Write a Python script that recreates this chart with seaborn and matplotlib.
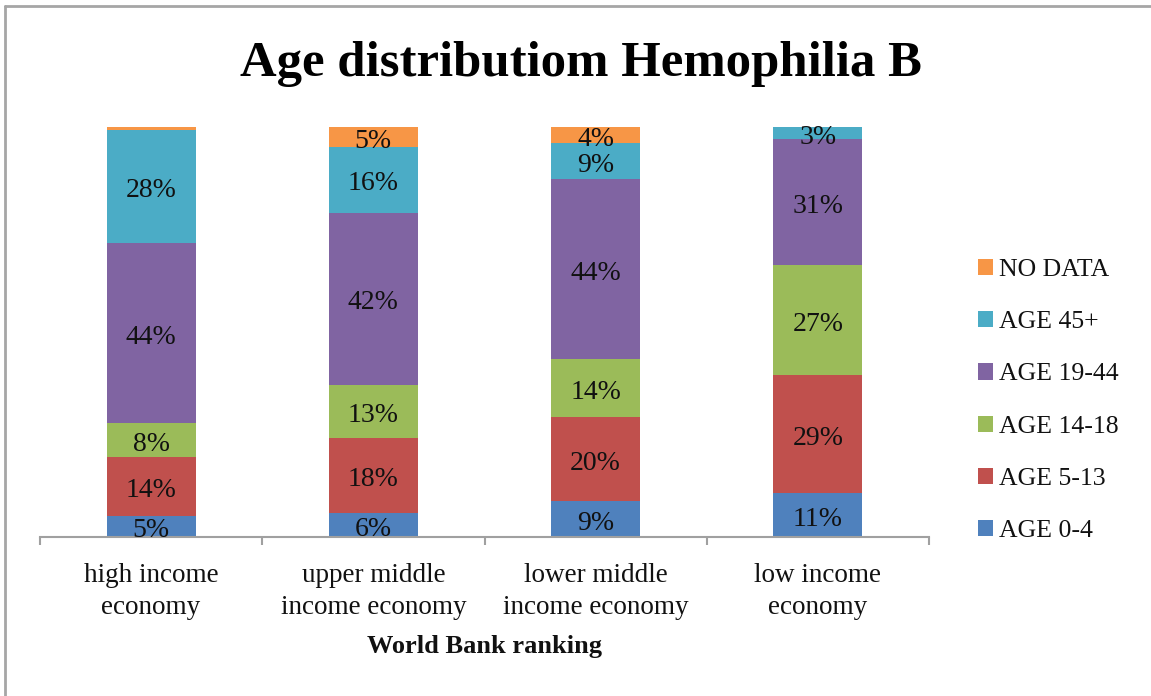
import numpy as np
import pandas as pd
import matplotlib
matplotlib.use("Agg")
import matplotlib.pyplot as plt
import seaborn as sns
from matplotlib.lines import Line2D
from matplotlib.patches import Patch

# Share of patients (%) by age group in each World Bank income group
categories = ["high income\neconomy", "upper middle\nincome economy",
              "lower middle\nincome economy", "low income\neconomy"]
age_0_4 = [5.1, 5.9, 8.8, 10.7]
age_5_13 = [14.4, 18.3, 20.5, 28.8]
age_14_18 = [8.3, 12.9, 14.1, 26.8]
age_19_44 = [43.9, 42.0, 43.9, 30.8]
age_45_plus = [27.6, 16.1, 8.8, 2.9]
no_data = [0.7, 4.8, 3.9, 0.0]

series_names = ["AGE 0-4", "AGE 5-13", "AGE 14-18", "AGE 19-44", "AGE 45+", "NO DATA"]
series_values = [age_0_4, age_5_13, age_14_18, age_19_44, age_45_plus, no_data]
colors = ["#4F81BD", "#C0504D", "#9BBB59", "#8064A2", "#4BACC6", "#F79646"]

sns.set_style("white")
plt.rcParams["font.family"] = ["Liberation Serif", "DejaVu Serif"]
plt.rcParams["text.color"] = "#111111"

W, H = 1151, 696
fig = plt.figure(figsize=(W / 100, H / 100), dpi=100)
ax = fig.add_axes([40 / W, 1 - 537 / H, (929 - 40) / W, (537 - 127) / H])

# build cumulative tops for stacking
vals = np.array(series_values)
tops = np.cumsum(vals, axis=0)
bottoms = tops - vals

# draw from the top layer down so each lower layer covers the one above
for k in range(len(series_names) - 1, -1, -1):
    df = pd.DataFrame({"category": categories, "top": tops[k]})
    sns.barplot(data=df, x="category", y="top", color=colors[k], saturation=1,
                width=0.4, ax=ax, errorbar=None, linewidth=0, order=categories)

# percentage labels centred in each segment
for k in range(len(series_names)):
    for i in range(len(categories)):
        v = vals[k, i]
        if v >= 1.5:
            ax.annotate(f"{round(v)}%", xy=(i, bottoms[k, i] + v / 2),
                        xytext=(0, -3), textcoords="offset points",
                        ha="center", va="center", fontsize=20, color="#111111")

ax.set_xlim(-0.5, len(categories) - 0.5)
ax.set_ylim(0, 100)
ax.set_yticks([])
ax.set_ylabel("")
for s in ["left", "right", "top"]:
    ax.spines[s].set_visible(False)
ax.spines["bottom"].set_color("#A0A0A0")
ax.spines["bottom"].set_linewidth(1.5)

ax.set_xticks(np.arange(-0.5, len(categories), 1.0))
ax.set_xticklabels([])
ax.tick_params(axis="x", which="major", direction="out", length=6, width=1.5,
               color="#A0A0A0", bottom=True)
ax.set_xticks(np.arange(len(categories)), minor=True)
ax.set_xticklabels(categories, minor=True, fontsize=19.5, linespacing=1.35,
                   color="#111111")
ax.tick_params(axis="x", which="minor", length=0, pad=19)

ax.set_xlabel("World Bank ranking", fontsize=19, fontweight="bold", labelpad=11,
              color="#111111")

fig.text(0.505, 1 - 64 / H, "Age distributiom Hemophilia B", ha="center", va="center",
         fontsize=36.5, fontweight="bold", color="#000000")

handles = [Patch(facecolor=colors[k], edgecolor="none", label=series_names[k])
           for k in range(len(series_names) - 1, -1, -1)]
fig.legend(handles=handles, loc="center left", bbox_to_anchor=(978 / W, 1 - 400.5 / H),
           frameon=False, fontsize=18.5, handlelength=0.6, handleheight=0.6,
           handletextpad=0.2, labelspacing=1.17, borderpad=0, borderaxespad=0)

# outer chart frame
fc = "#A6A6A6"
fig.add_artist(Line2D([5 / W, 5 / W], [-0.1, 1 - 6 / H], color=fc, lw=2, transform=fig.transFigure))
fig.add_artist(Line2D([5 / W, 1.1], [1 - 6 / H, 1 - 6 / H], color=fc, lw=2, transform=fig.transFigure))

fig.savefig("out.png", dpi=100)
